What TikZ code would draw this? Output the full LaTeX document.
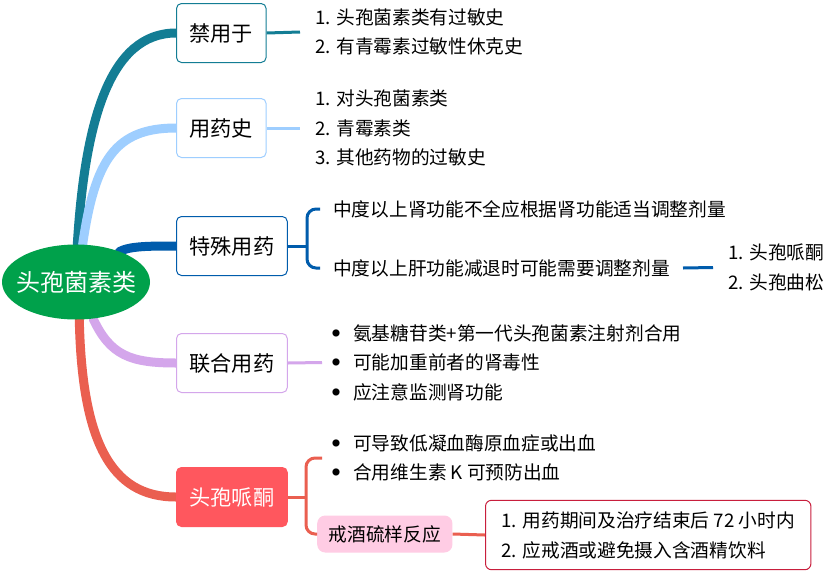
\documentclass[tikz,border=0pt]{standalone}
\usepackage{fontspec}
\setmainfont{Noto Sans CJK SC}
\definecolor{rootgreen}{RGB}{0, 161, 75}
\definecolor{banteal}{RGB}{19, 125, 148}
\definecolor{histblue}{RGB}{158, 206, 255}
\definecolor{specblue}{RGB}{0, 92, 172}
\definecolor{comblav}{RGB}{212, 166, 235}
\definecolor{cefored}{RGB}{255, 87, 94}
\definecolor{cefoline}{RGB}{234, 95, 80}
\definecolor{quitpink}{RGB}{255, 204, 228}
\definecolor{notered}{RGB}{200, 30, 60}
\usetikzlibrary{shapes.geometric, positioning, calc, backgrounds}
\newcommand{\itemdot}{\makebox[21pt][l]{\raisebox{4pt}{\fontsize{8}{8}\selectfont ●}}}

\begin{document}
\begin{tikzpicture}[x=1pt, y=-1pt,
    topic/.style={draw, fill=white, rounded corners=5pt, line width=1pt, minimum height=59pt,
      inner xsep=13pt, anchor=west, font=\fontsize{21.2}{25}\selectfont},
    items/.style={align=left, anchor=west, inner xsep=15pt, font=\fontsize{18.7}{29.5}\selectfont},
    branch/.style={line width=9pt, line cap=round},
    link/.style={line width=3pt}]
  \useasboundingbox (0,0) rectangle (829,573);

  % Root
  \node[ellipse, fill=rootgreen, text=white, minimum width=148pt, minimum height=75pt, inner sep=0pt,
    font=\fontsize{24}{28}\selectfont] (root) at (76,282) {\makebox[0pt]{头孢菌素类}};

  % Contraindication
  \node[topic, draw=banteal] (ban) at (176,33) {禁用于};
  \node[items] (banlist) at (300,32) {1. 头孢菌素类有过敏史\\2. 有青霉素过敏性休克史};
  \draw[link, banteal] (ban.east) -- (banlist.west);

  % History
  \node[topic, draw=histblue] (hist) at (176,128) {用药史};
  \node[items] (histlist) at (300,128) {1. 对头孢菌素类\\2. 青霉素类\\3. 其他药物的过敏史};
  \draw[link, histblue] (hist.east) -- (histlist.west);

  % Special use
  \node[topic, draw=specblue] (spec) at (176,246) {特殊用药};
  \node[items, inner xsep=13pt] (kidney) at (320,209) {中度以上肾功能不全应根据肾功能适当调整剂量};
  \node[items, inner xsep=13pt] (liver) at (320,268) {中度以上肝功能减退时可能需要调整剂量};
  \coordinate (specbrace) at (307,246);
  \draw[link, specblue] (spec.east) -- (specbrace);
  \draw[link, specblue, rounded corners=9pt] (kidney.west) -| (specbrace) |- (liver.west);
  \node[items] (drugs) at (713,267.5) {1. 头孢哌酮\\2. 头孢曲松};
  \draw[link, specblue] (liver.east) -- (drugs.west);

  % Combination
  \node[topic, draw=comblav] (comb) at (176,363) {联合用药};
  \node[items, inner xsep=10pt] (comblist) at (322,362.5)
    {\itemdot 氨基糖苷类+第一代头孢菌素注射剂合用\\\itemdot 可能加重前者的肾毒性\\\itemdot 应注意监测肾功能};
  \draw[link, comblav] (comb.east) -- (comblist.west);

  % Cefoperazone
  \node[topic, draw=cefored, fill=cefored, text=white] (cefo) at (176,497) {头孢哌酮};
  \node[items, inner xsep=10pt] (cefbul) at (322,458)
    {\itemdot 可导致低凝血酶原血症或出血\\\itemdot 合用维生素 K 可预防出血};
  \node[fill=quitpink, rounded corners=8pt, minimum height=37pt, inner xsep=11.5pt, anchor=west,
    font=\fontsize{18.7}{22}\selectfont] (quit) at (317,534) {戒酒硫样反应};
  \node[draw=notered, fill=white, line width=1pt, rounded corners=6pt, align=left, anchor=west,
    inner xsep=16pt, inner ysep=11pt, font=\fontsize{18.7}{30}\selectfont] (note) at (485,535)
    {1. 用药期间及治疗结束后 72 小时内\\2. 应戒酒或避免摄入含酒精饮料};
  \coordinate (cefbrace) at (306,497);
  \draw[link, cefoline] (cefo.east) -- (cefbrace);
  \draw[link, cefoline, rounded corners=9pt] (cefbul.west) -| (cefbrace) |- (quit.west);
  \draw[link, cefoline] (quit.east) -- (note.west);

  % Branches
  \begin{scope}[on background layer]
    \fill[white] (0,0) rectangle (829,573);
    \draw[branch, banteal] (root.88) .. controls (85,120) and (110,33) .. (ban.west);
    \draw[branch, histblue] (root.80) .. controls (95,160) and (115,128) .. (hist.west);
    \draw[branch, specblue] (root.35) .. controls (130,246) and (150,246) .. (spec.west);
    \draw[branch, comblav] (root.-65) .. controls (110,355) and (130,363) .. (comb.west);
    \draw[branch, cefoline] (root.-85) .. controls (82,440) and (110,497) .. (cefo.west);
  \end{scope}
\end{tikzpicture}
\end{document}
